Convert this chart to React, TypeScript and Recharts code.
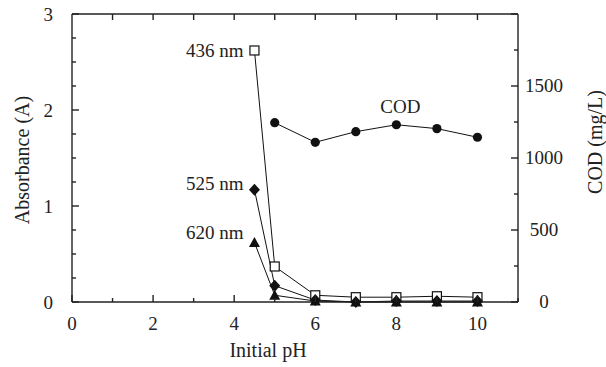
import React from 'react';
import { ComposedChart, Line, XAxis, YAxis, LabelList, Label, ReferenceLine } from 'recharts';

// ---- data ----
const pH = [4.5, 5, 6, 7, 8, 9, 10];
const abs436 = [2.62, 0.37, 0.07, 0.05, 0.05, 0.06, 0.05];
const abs525 = [1.17, 0.17, 0.02, 0.0, 0.01, 0.01, 0.01];
const abs620 = [0.62, 0.07, 0.01, 0.0, 0.0, 0.0, 0.0];
const cod: (number | null)[] = [null, 1245, 1109, 1183, 1231, 1204, 1144];
const seriesNames = ['436 nm', '525 nm', '620 nm', 'COD'];
const xTicks = [0, 1, 2, 3, 4, 5, 6, 7, 8, 9, 10, 11];
const topTicks = [1, 2, 3, 4, 5, 6, 7, 8, 9, 10];
const leftTicks = [0, 0.25, 0.5, 0.75, 1, 1.25, 1.5, 1.75, 2, 2.25, 2.5, 2.75, 3];
const rightTicks = [0, 250, 500, 750, 1000, 1250, 1500, 1750, 2000];
const xTitle = 'Initial pH';
const leftTitle = 'Absorbance (A)';
const rightTitle = 'COD (mg/L)';

const rows = pH.map((p, i) => ({ pH: p, a436: abs436[i], a525: abs525[i], a620: abs620[i], cod: cod[i] }));

const FONT = '"Liberation Serif", "Times New Roman", serif';
const TXT = '#222';
const AX = '#222';
const AW = 1.4;
const FS = 19;

const BottomTick = (props: any) => {
  const { x, y, payload } = props;
  const v = payload.value;
  const major = v % 2 === 0;
  return (
    <g>
      <line x1={x} x2={x} y1={y} y2={y - (major ? 7 : 4)} stroke={AX} strokeWidth={AW} />
      {major && v <= 10 ? (
        <text x={x} y={y + 28} textAnchor="middle" fontFamily={FONT} fontSize={FS} fill={TXT}>{v}</text>
      ) : null}
    </g>
  );
};

const LeftTick = (props: any) => {
  const { x, y, payload } = props;
  const v = payload.value;
  const major = Number.isInteger(v);
  return (
    <g>
      <line x1={x} x2={x + (major ? 7 : 4)} y1={y} y2={y} stroke={AX} strokeWidth={AW} />
      {major ? (
        <text x={x - 19} y={y} dy="0.35em" textAnchor="end" fontFamily={FONT} fontSize={FS} fill={TXT}>{v}</text>
      ) : null}
    </g>
  );
};

const RightTick = (props: any) => {
  const { x, y, payload } = props;
  const v = payload.value;
  const major = v % 500 === 0;
  return (
    <g>
      <line x1={x} x2={x - (major ? 7 : 4)} y1={y} y2={y} stroke={AX} strokeWidth={AW} />
      {major && v < 2000 ? (
        <text x={x + 26} y={y} dy="0.3em" textAnchor="middle" fontFamily={FONT} fontSize={FS} fill={TXT}>{v}</text>
      ) : null}
    </g>
  );
};

const TopTickShape = (p: any) => {
  const top = Math.min(p.y1, p.y2);
  return <line x1={p.x1} x2={p.x1} y1={top} y2={top + 6} stroke={AX} strokeWidth={AW} />;
};

const Square = (p: any) => {
  if (p.cx == null || p.cy == null || p.value == null) return <g key={p.key} />;
  return <rect key={p.key} x={p.cx - 4.5} y={p.cy - 4.5} width={9} height={9} fill="#fff" stroke="#111" strokeWidth={1.2} />;
};
const Diamond = (p: any) => {
  if (p.cx == null || p.cy == null || p.value == null) return <g key={p.key} />;
  const { cx, cy } = p;
  return <polygon key={p.key} points={`${cx},${cy - 6} ${cx + 5.5},${cy} ${cx},${cy + 6} ${cx - 5.5},${cy}`} fill="#111" />;
};
const Triangle = (p: any) => {
  if (p.cx == null || p.cy == null || p.value == null) return <g key={p.key} />;
  const { cx, cy } = p;
  return <polygon key={p.key} points={`${cx},${cy - 5.5} ${cx + 5.5},${cy + 4.5} ${cx - 5.5},${cy + 4.5}`} fill="#111" />;
};
const Dot = (p: any) => {
  if (p.cx == null || p.cy == null || p.value == null) return <g key={p.key} />;
  return <circle key={p.key} cx={p.cx} cy={p.cy} r={4.6} fill="#111" />;
};

const sideLabel = (text: string, dy: number) => (props: any) => {
  if (props.index !== 0) return <g />;
  return (
    <text x={props.x - 11} y={props.y + dy} dy="0.35em" textAnchor="end" fontFamily={FONT} fontSize={FS} fill={TXT}>{text}</text>
  );
};

const codLabel = (text: string, idx: number) => (props: any) => {
  if (props.index !== idx) return <g />;
  return (
    <text x={props.x + 4} y={props.y - 18} dy="0.35em" textAnchor="middle" fontFamily={FONT} fontSize={FS} fill={TXT}>{text}</text>
  );
};

export default function App() {
  return (
    <div style={{ position: 'absolute', left: 0, top: 0, background: '#fff' }}>
      <ComposedChart width={606} height={367} data={rows} margin={{ top: 14, right: 0, bottom: 0, left: 0 }}>
        <XAxis
          xAxisId="bottom"
          dataKey="pH"
          type="number"
          domain={[0, 11]}
          ticks={xTicks}
          interval={0}
          height={65}
          tickSize={0}
          tickMargin={0}
          tickLine={false}
          axisLine={{ stroke: AX, strokeWidth: AW }}
          tick={BottomTick}
        >
          <Label
            content={(lp: any) => {
              const vb = lp.viewBox || { x: 72, y: 302, width: 446 };
              return (
                <text x={vb.x + vb.width / 2 - 27} y={vb.y + 55} textAnchor="middle" fontFamily={FONT} fontSize={FS + 1} fill={TXT}>{xTitle}</text>
              );
            }}
          />
        </XAxis>
        <YAxis
          yAxisId="left"
          type="number"
          domain={[0, 3]}
          ticks={leftTicks}
          interval={0}
          width={72}
          tickSize={0}
          tickMargin={0}
          tickLine={false}
          axisLine={{ stroke: AX, strokeWidth: AW }}
          tick={LeftTick}
        >
          <Label
            content={(lp: any) => {
              const vb = lp.viewBox || { x: 0, y: 14, height: 288 };
              const cx = vb.x + 22;
              const cy = vb.y + vb.height / 2 + 2;
              return (
                <text x={cx} y={cy} dy="0.35em" textAnchor="middle" transform={`rotate(-90 ${cx} ${cy})`} fontFamily={FONT} fontSize={FS + 1} fill={TXT}>{leftTitle}</text>
              );
            }}
          />
        </YAxis>
        <YAxis
          yAxisId="right"
          orientation="right"
          type="number"
          domain={[0, 2000]}
          ticks={rightTicks}
          interval={0}
          width={88}
          tickSize={0}
          tickMargin={0}
          tickLine={false}
          axisLine={{ stroke: AX, strokeWidth: AW }}
          tick={RightTick}
        >
          <Label
            content={(lp: any) => {
              const vb = lp.viewBox || { x: 518, y: 14, width: 88, height: 288 };
              const cx = vb.x + 77;
              const cy = vb.y + vb.height / 2 - 16;
              return (
                <text x={cx} y={cy} dy="0.35em" textAnchor="middle" transform={`rotate(-90 ${cx} ${cy})`} fontFamily={FONT} fontSize={FS + 1} fill={TXT}>{rightTitle}</text>
              );
            }}
          />
        </YAxis>

        <ReferenceLine xAxisId="bottom" yAxisId="left" y={3} stroke={AX} strokeWidth={AW} />
        {topTicks.map((t) => (
          <ReferenceLine key={`tt${t}`} xAxisId="bottom" yAxisId="left" x={t} shape={TopTickShape} />
        ))}

        <Line xAxisId="bottom" yAxisId="left" dataKey="a436" stroke="#111" strokeWidth={1} dot={Square} activeDot={false} isAnimationActive={false}>
          <LabelList dataKey="a436" content={sideLabel(seriesNames[0], 0)} />
        </Line>
        <Line xAxisId="bottom" yAxisId="left" dataKey="a620" stroke="#111" strokeWidth={1} dot={Triangle} activeDot={false} isAnimationActive={false}>
          <LabelList dataKey="a620" content={sideLabel(seriesNames[2], -10)} />
        </Line>
        <Line xAxisId="bottom" yAxisId="left" dataKey="a525" stroke="#111" strokeWidth={1} dot={Diamond} activeDot={false} isAnimationActive={false}>
          <LabelList dataKey="a525" content={sideLabel(seriesNames[1], -6)} />
        </Line>
        <Line xAxisId="bottom" yAxisId="right" dataKey="cod" stroke="#111" strokeWidth={1} dot={Dot} activeDot={false} isAnimationActive={false}>
          <LabelList dataKey="cod" content={codLabel(seriesNames[3], 4)} />
        </Line>
      </ComposedChart>
    </div>
  );
}
